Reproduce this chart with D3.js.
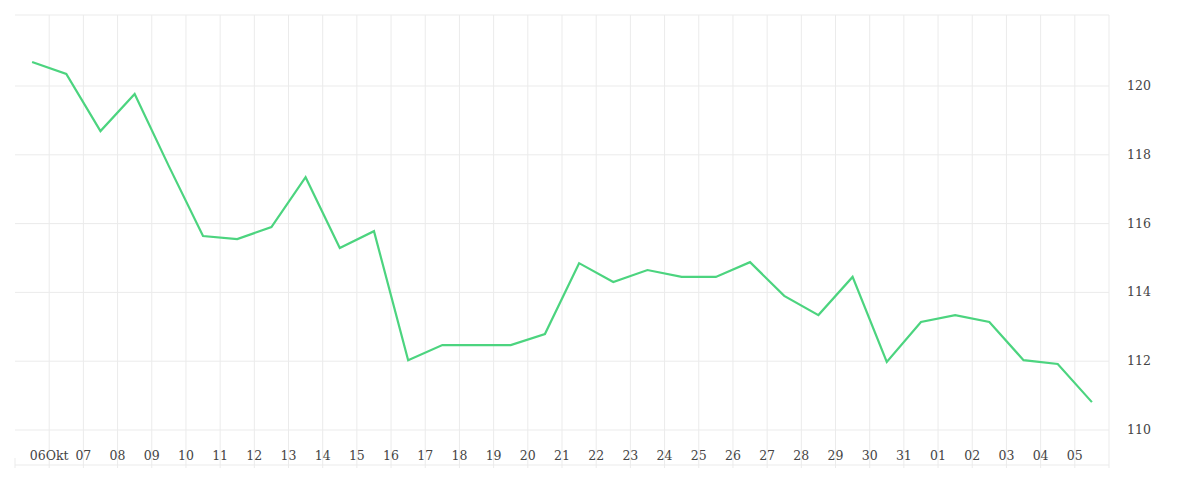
<!DOCTYPE html><html><head><meta charset="utf-8">
<script src="https://cdn.jsdelivr.net/npm/d3@7"></script>
<style>body{margin:0;background:#fff}text{font-family:"DejaVu Serif","Liberation Serif",serif;font-size:12.5px;fill:#444}</style>
</head><body><svg id="c" width="1200" height="500"></svg>
<script>
const dates=["2023-10-05","2023-10-06","2023-10-07","2023-10-08","2023-10-09","2023-10-10","2023-10-11","2023-10-12","2023-10-13","2023-10-14","2023-10-15","2023-10-16","2023-10-17","2023-10-18","2023-10-19","2023-10-20","2023-10-21","2023-10-22","2023-10-23","2023-10-24","2023-10-25","2023-10-26","2023-10-27","2023-10-28","2023-10-29","2023-10-30","2023-10-31","2023-11-01","2023-11-02","2023-11-03","2023-11-04","2023-11-05"];
const values=[120.70,120.35,118.69,119.77,117.67,115.64,115.55,115.90,117.35,115.29,115.78,112.03,112.47,112.47,112.47,112.79,114.85,114.30,114.65,114.45,114.45,114.88,113.90,113.34,114.45,111.98,113.14,113.34,113.14,112.03,111.92,110.81];
const yTicks=[110,112,114,116,118,120];
const svg=d3.select("#c");
const parse=d=>{const t=new Date(d+"T12:00:00");return t;};
const x=d3.scaleTime().domain([new Date("2023-10-05T00:00:00"),new Date("2023-11-06T00:00:00")]).range([15,1109]);
const y=d3.scaleLinear().domain([110,120]).range([430,86]);
const xt=d3.timeDay.range(new Date("2023-10-06T00:00:00"),new Date("2023-11-06T00:00:00"));
const g=svg.append("g");
g.selectAll(".vg").data(xt.concat([new Date("2023-11-06T00:00:00")])).join("line").attr("x1",d=>x(d)).attr("x2",d=>x(d)).attr("y1",15).attr("y2",468).attr("stroke","#ebebeb");
g.selectAll(".hg").data(yTicks).join("line").attr("x1",15).attr("x2",1109).attr("y1",d=>y(d)).attr("y2",d=>y(d)).attr("stroke","#ebebeb");
[15,465].forEach(v=>g.append("line").attr("x1",15).attr("x2",1109).attr("y1",v).attr("y2",v).attr("stroke","#ebebeb"));
g.append("line").attr("x1",15).attr("x2",15).attr("y1",458).attr("y2",468).attr("stroke","#ebebeb");
g.selectAll(".xl").data(xt).join("text").attr("x",d=>x(d)).attr("y",460).attr("text-anchor","middle")
 .text((d,i)=>i===0?d3.timeFormat("%d")(d)+"Okt":d3.timeFormat("%d")(d));
g.selectAll(".yl").data(yTicks).join("text").attr("x",1127).attr("y",d=>y(d)+4).text(d=>d);
svg.append("path").datum(values).attr("fill","none").attr("stroke","#4cd47f").attr("stroke-width",2.2)
 .attr("d",d3.line().x((d,i)=>x(parse(dates[i]))).y(d=>y(d)));
</script></body></html>
